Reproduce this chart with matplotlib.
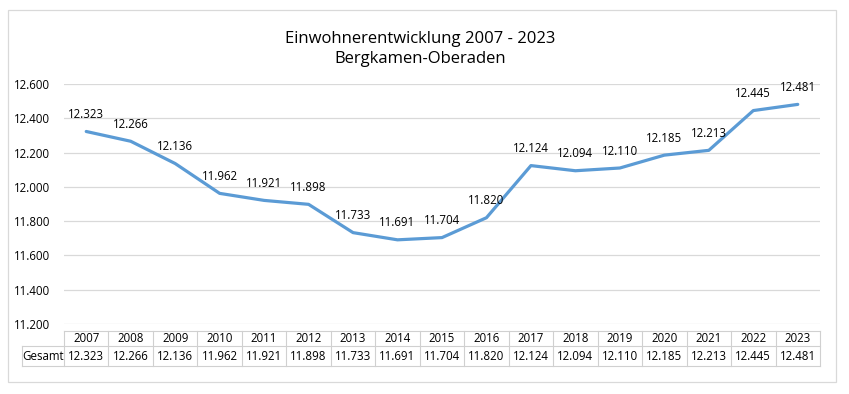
import matplotlib.pyplot as plt
from matplotlib.patches import Rectangle
from matplotlib.lines import Line2D

years = [2007, 2008, 2009, 2010, 2011, 2012, 2013, 2014, 2015,
         2016, 2017, 2018, 2019, 2020, 2021, 2022, 2023]
einwohner = [12323, 12266, 12136, 11962, 11921, 11898, 11733, 11691, 11704,
             11820, 12124, 12094, 12110, 12185, 12213, 12445, 12481]
yticks = [11200, 11400, 11600, 11800, 12000, 12200, 12400, 12600]
title = "Einwohnerentwicklung 2007 - 2023\nBergkamen-Oberaden"
row_label = "Gesamt"


def de(v):
    # German thousands separator
    return f"{v:,}".replace(",", ".")


plt.rcParams['font.family'] = ['Open Sans', 'DejaVu Sans']
fs = 8.3

W, H = 849, 394
fig = plt.figure(figsize=(W / 100, H / 100), dpi=100)

# outer chart border
fig.patches.append(Rectangle((8 / W, 1 - 382 / H), 828 / W, 372 / H,
                             transform=fig.transFigure, fill=False,
                             edgecolor='#d9d9d9', linewidth=0.9))

left, right, top, bottom = 64, 820, 84, 324
ax = fig.add_axes([left / W, 1 - bottom / H, (right - left) / W, (bottom - top) / H])

x = list(range(len(years)))
ax.plot(x, einwohner, color='#5b9bd5', linewidth=2.3, solid_capstyle='round')
for xi, v in zip(x, einwohner):
    ax.annotate(de(v), (xi, v), xytext=(0, 7.5), textcoords='offset points',
                ha='center', va='bottom', fontsize=fs, color='black')

ax.set_xlim(-0.5, len(years) - 0.5)
ax.set_ylim(yticks[0], yticks[-1])
ax.set_yticks(yticks)
ax.set_yticklabels([de(v) for v in yticks], fontsize=fs)
ax.set_xticks([])
ax.grid(axis='y', color='#d9d9d9', linewidth=0.9)
ax.set_axisbelow(True)
for s in ax.spines.values():
    s.set_visible(False)
ax.tick_params(axis='y', length=0, pad=10)

fig.text(0.495, 1 - 49 / H, title, ha='center', va='center', fontsize=12,
         linespacing=1.4)

# data table under the axis
h_top, h_mid, h_bot = 331, 346, 366
lab_left = 22
col_w = (right - left) / len(years)
lc = '#d0d0d0'


def fx(px):
    return px / W


def fy(py):
    return 1 - py / H


fig.lines.append(Line2D([fx(left), fx(right)], [fy(h_top)] * 2, transform=fig.transFigure, color=lc, lw=0.8))
fig.lines.append(Line2D([fx(lab_left), fx(right)], [fy(h_mid)] * 2, transform=fig.transFigure, color=lc, lw=0.8))
fig.lines.append(Line2D([fx(lab_left), fx(right)], [fy(h_bot)] * 2, transform=fig.transFigure, color=lc, lw=0.8))
fig.lines.append(Line2D([fx(lab_left)] * 2, [fy(h_mid), fy(h_bot)], transform=fig.transFigure, color=lc, lw=0.8))
for i in range(len(years) + 1):
    xe = left + i * col_w
    fig.lines.append(Line2D([fx(xe)] * 2, [fy(h_top), fy(h_bot)], transform=fig.transFigure, color=lc, lw=0.8))

for i, (yr, v) in enumerate(zip(years, einwohner)):
    xc = left + (i + 0.5) * col_w
    fig.text(fx(xc), fy((h_top + h_mid) / 2), str(yr), ha='center', va='center', fontsize=fs)
    fig.text(fx(xc), fy((h_mid + h_bot) / 2), de(v), ha='center', va='center', fontsize=fs)
fig.text(fx((lab_left + left) / 2), fy((h_mid + h_bot) / 2), row_label, ha='center', va='center', fontsize=fs)

fig.savefig('out.png', dpi=100, facecolor='white')
